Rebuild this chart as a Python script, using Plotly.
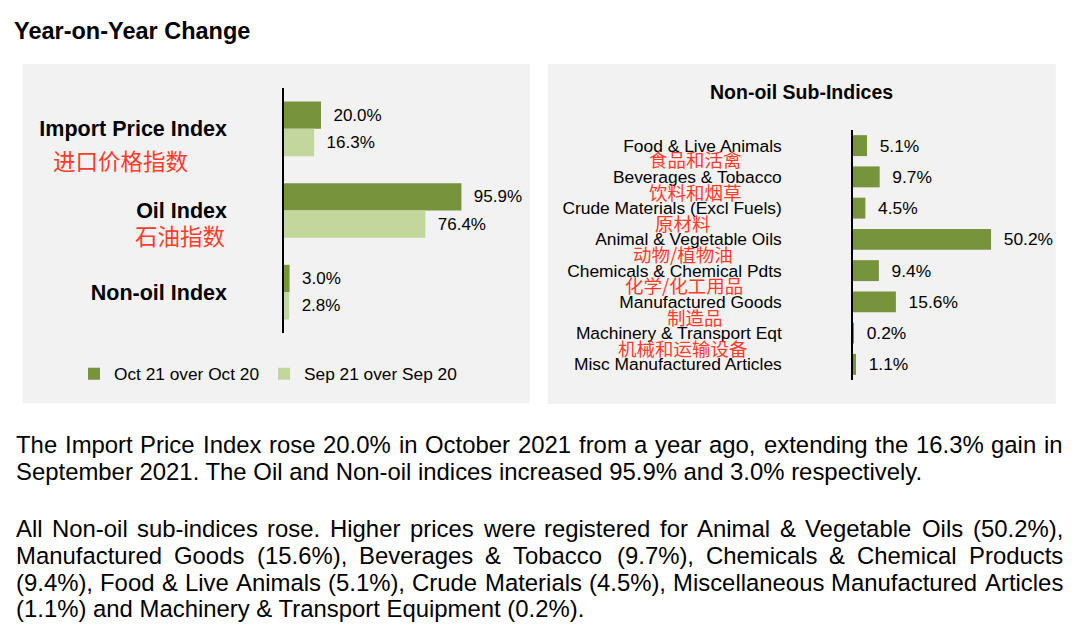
import plotly.graph_objects as go

# page offset (browser body margin) and figure size
OFF = 8
W_PX, H_PX = 1072, 635

# ---------------- data ----------------
main_categories = ["Import Price Index", "Oil Index", "Non-oil Index"]
main_categories_cn = ["进口价格指数", "石油指数"]
oct21_values = [20.0, 95.9, 3.0]
sep21_values = [16.3, 76.4, 2.8]
series_names = ["Oct 21 over Oct 20", "Sep 21 over Sep 20"]

sub_categories = [
    "Food & Live Animals",
    "Beverages & Tobacco",
    "Crude Materials (Excl Fuels)",
    "Animal & Vegetable Oils",
    "Chemicals & Chemical Pdts",
    "Manufactured Goods",
    "Machinery & Transport Eqt",
    "Misc Manufactured Articles",
]
sub_categories_cn = ["食品和活禽", "饮料和烟草", "原材料", "动物/植物油", "化学/化工用品", "制造品", "机械和运输设备"]
sub_values = [5.1, 9.7, 4.5, 50.2, 9.4, 15.6, 0.2, 1.1]

title_text = "Year-on-Year Change"
sub_title_text = "Non-oil Sub-Indices"
paragraph_lines = [
    ("The Import Price Index rose 20.0% in October 2021 from a year ago, extending the 16.3% gain in", True),
    ("September 2021. The Oil and Non-oil indices increased 95.9% and 3.0% respectively.", False),
    ("All Non-oil sub-indices rose. Higher prices were registered for Animal & Vegetable Oils (50.2%),", True),
    ("Manufactured Goods (15.6%), Beverages & Tobacco (9.7%), Chemicals & Chemical Products", True),
    ("(9.4%), Food & Live Animals (5.1%), Crude Materials (4.5%), Miscellaneous Manufactured Articles", True),
    ("(1.1%) and Machinery & Transport Equipment (0.2%).", False),
]

# ---------------- style ----------------
DARK = "#77933C"
LIGHT = "#C3D69B"
PANEL = "#F2F2F2"
RED = "#FF3B2A"
FONT = "Liberation Sans, Arial, sans-serif"
CJK = "Noto Sans CJK SC"


def px_x(p):
    return (p - OFF) / W_PX


def px_y(p):
    return 1 - (p - OFF) / H_PX


fig = go.Figure()

nbsp = "\u00a0\u00a0"
LBL = dict(size=17, color="black", family=FONT)
fig.add_trace(go.Bar(
    y=main_categories, x=oct21_values, orientation="h", name=series_names[0],
    marker=dict(color=DARK, line=dict(width=0)),
    texttemplate=nbsp + "%{x:.1f}%", textposition="outside", cliponaxis=False,
    constraintext="none", textfont=LBL,
    xaxis="x", yaxis="y",
))
fig.add_trace(go.Bar(
    y=main_categories, x=sep21_values, orientation="h", name=series_names[1],
    marker=dict(color=LIGHT, line=dict(width=0)),
    texttemplate=nbsp + "%{x:.1f}%", textposition="outside", cliponaxis=False,
    constraintext="none", textfont=LBL,
    xaxis="x", yaxis="y",
))
fig.add_trace(go.Bar(
    y=sub_categories, x=sub_values, orientation="h", showlegend=False,
    marker=dict(color=DARK, line=dict(width=0)),
    texttemplate=nbsp + "%{x:.1f}%", textposition="outside", cliponaxis=False,
    constraintext="none", textfont=dict(size=17.4, color="black", family=FONT),
    xaxis="x2", yaxis="y2",
))

axis_common_x = dict(showgrid=False, zeroline=False, showline=False, showticklabels=False, ticks="", fixedrange=True)
axis_common_y = dict(showgrid=False, zeroline=False, showline=True, linecolor="black", linewidth=1.5,
                     ticks="", type="category")

shapes = [
    dict(type="rect", xref="paper", yref="paper", x0=px_x(22.5), x1=px_x(529.6), y0=px_y(403), y1=px_y(64),
         fillcolor=PANEL, line=dict(width=0), layer="below"),
    dict(type="rect", xref="paper", yref="paper", x0=px_x(547.6), x1=px_x(1055.8), y0=px_y(404), y1=px_y(64),
         fillcolor=PANEL, line=dict(width=0), layer="below"),
]

annotations = []
annotations.append(dict(text="<b>" + title_text + "</b>", xref="paper", yref="paper", x=px_x(13), y=px_y(31),
                        xanchor="left", yanchor="middle", showarrow=False, borderpad=0,
                        font=dict(family=FONT, size=23.5, color="black")))
annotations.append(dict(text="<b>" + sub_title_text + "</b>", xref="paper", yref="paper", x=px_x(801), y=px_y(92),
                        xanchor="center", yanchor="middle", showarrow=False,
                        font=dict(family=FONT, size=19.5, color="black")))

# Chinese labels (left)
left_cn_pos = [(120.3, 160), (180, 235)]
for t, (cx, cy) in zip(main_categories_cn, left_cn_pos):
    annotations.append(dict(text=t, xref="paper", yref="paper", x=px_x(cx), y=px_y(cy),
                            xanchor="center", yanchor="middle", showarrow=False,
                            font=dict(family=CJK, size=22.5, color=RED)))
# Chinese labels (right)
right_cn_pos = [(695.4, 159), (695.7, 192), (682.8, 223), (682.8, 254), (683.6, 285), (695.4, 317), (683.3, 348)]
for t, (cx, cy) in zip(sub_categories_cn, right_cn_pos):
    annotations.append(dict(text=t, xref="paper", yref="paper", x=px_x(cx), y=px_y(cy),
                            xanchor="center", yanchor="middle", showarrow=False,
                            font=dict(family=CJK, size=18.5, color=RED)))

# Paragraph text (justified lines emulated word by word with Arial metrics)
AW = {' ': 278, '!': 278, '%': 889, '&': 667, '(': 333, ')': 333, ',': 278, '-': 333, '.': 278, '/': 278,
      ':': 278, ';': 278}
for d in "0123456789":
    AW[d] = 556
AW.update({'A': 667, 'B': 667, 'C': 722, 'D': 722, 'E': 667, 'F': 611, 'G': 778, 'H': 722, 'I': 278, 'J': 500,
           'K': 667, 'L': 556, 'M': 833, 'N': 722, 'O': 778, 'P': 667, 'Q': 778, 'R': 722, 'S': 667, 'T': 611,
           'U': 722, 'V': 667, 'W': 944, 'X': 667, 'Y': 667, 'Z': 611,
           'a': 556, 'b': 556, 'c': 500, 'd': 556, 'e': 556, 'f': 278, 'g': 556, 'h': 556, 'i': 222, 'j': 222,
           'k': 500, 'l': 222, 'm': 833, 'n': 556, 'o': 556, 'p': 556, 'q': 556, 'r': 333, 's': 500, 't': 278,
           'u': 556, 'v': 500, 'w': 722, 'x': 500, 'y': 500, 'z': 500})

P_SIZE = 23.9
P_LEFT, P_RIGHT = 15, 1062
line_y = [444, 471.5, 528.7, 555.3, 582, 608.7]


def text_w(s):
    return sum(AW.get(c, 556) for c in s) / 1000 * P_SIZE


for (line, justify), ly in zip(paragraph_lines, line_y):
    if not justify:
        annotations.append(dict(text=line, xref="paper", yref="paper", x=px_x(P_LEFT), y=px_y(ly),
                                xanchor="left", yanchor="middle", showarrow=False, borderpad=0,
                                font=dict(family=FONT, size=P_SIZE, color="black")))
        continue
    words = line.split(" ")
    widths = [text_w(w) for w in words]
    gap = (P_RIGHT - P_LEFT - sum(widths)) / (len(words) - 1)
    xpos = P_LEFT
    for w, ww in zip(words, widths):
        annotations.append(dict(text=w, xref="paper", yref="paper", x=px_x(xpos), y=px_y(ly),
                                xanchor="left", yanchor="middle", showarrow=False, borderpad=0,
                                font=dict(family=FONT, size=P_SIZE, color="black")))
        xpos += ww + gap

fig.update_layout(
    width=W_PX, height=H_PX,
    margin=dict(l=0, r=0, t=0, b=0),
    paper_bgcolor="white", plot_bgcolor="rgba(0,0,0,0)",
    barmode="group", bargap=0.33, bargroupgap=0,
    font=dict(family=FONT, color="black"),
    xaxis=dict(domain=[px_x(284), px_x(529.6)], range=[0, 245.6 / 1.85], anchor="y", **axis_common_x),
    yaxis=dict(domain=[px_y(333), px_y(88)], range=[2.5, -0.5], anchor="x",
               ticklabelstandoff=51, tickfont=dict(family=FONT, size=21.5, color="black", weight="bold"),
               **axis_common_y),
    xaxis2=dict(domain=[px_x(853), px_x(1055)], range=[0, 202 / 2.75], anchor="y2", **axis_common_x),
    yaxis2=dict(domain=[px_y(380), px_y(130)], range=[7.5, -0.5], anchor="x2",
                ticklabelstandoff=66, tickfont=dict(family=FONT, size=17.4, color="black"),
                **axis_common_y),
    legend=dict(orientation="h", x=px_x(74), y=px_y(374), xanchor="left", yanchor="middle",
                traceorder="normal",
                bgcolor="rgba(0,0,0,0)", font=dict(family=FONT, size=17.3, color="black")),
    shapes=shapes,
    annotations=annotations,
    showlegend=True,
)

fig.write_html("out.html")
